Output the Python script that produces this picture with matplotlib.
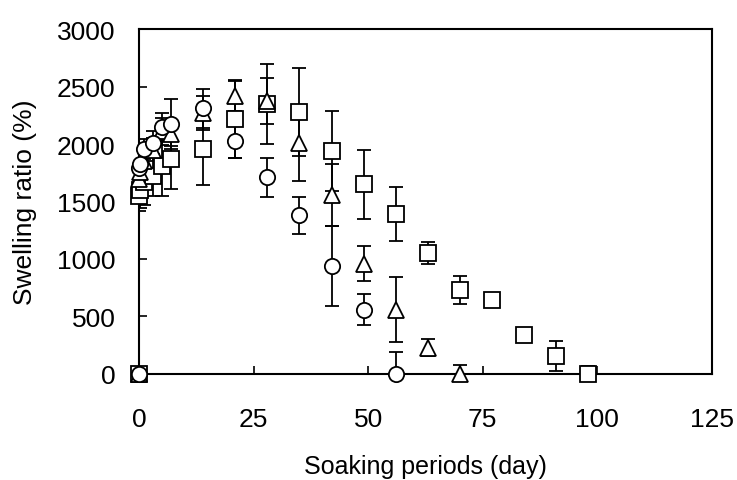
import numpy as np
import matplotlib
matplotlib.use("Agg")
import matplotlib.pyplot as plt

plt.rcParams['font.family'] = ['Liberation Sans', 'DejaVu Sans']

days = [0, 0.1, 0.25, 1, 3, 5, 7, 14, 21, 28, 35, 42, 49, 56, 63, 70, 77, 84, 91, 98]

circle_days = days[:14]
circle_vals = [0, 1790, 1830, 1960, 2010, 2150, 2175, 2310, 2030, 1710, 1380, 940, 560, 0]
circle_err = [0, 60, 60, 80, 100, 120, 220, 170, 150, 170, 160, 345, 135, 190]

tri_days = days[:16]
tri_vals = [0, 1700, 1760, 1850, 1950, 2110, 2090, 2270, 2420, 2370, 2010, 1560, 960, 560, 230, 0]
tri_err = [0, 60, 60, 80, 100, 120, 110, 150, 130, 200, 330, 270, 150, 280, 70, 80]

sq_days = days
sq_vals = [0, 1550, 1600, 1670, 1720, 1810, 1870, 1960, 2220, 2350, 2280, 1940, 1650, 1390, 1050, 730, 640, 340, 160, 0]
sq_err = [0, 130, 160, 200, 170, 260, 260, 320, 340, 350, 380, 350, 300, 235, 95, 125, 0, 0, 130, 70]

xticks = [0, 25, 50, 75, 100, 125]
yticks = [0, 500, 1000, 1500, 2000, 2500, 3000]

fig = plt.figure(figsize=(7.37, 4.81), dpi=100)
ax = fig.add_axes([0.1886, 0.2204, 0.7774, 0.7172])

series = [
    (sq_days, sq_vals, sq_err, 's'),
    (tri_days, tri_vals, tri_err, '^'),
    (circle_days, circle_vals, circle_err, 'o'),
]

for d, v, e, m in series:
    ax.errorbar(d, v, yerr=e, fmt='none', ecolor='black', elinewidth=1.3,
                capsize=5, capthick=1.3, zorder=2)

for d, v, e, m in series:
    ms = 11 if m != '^' else 11.5
    ax.plot(d, v, linestyle='none', marker=m, markersize=ms, markerfacecolor='white',
            markeredgecolor='black', markeredgewidth=1.3, zorder=3, clip_on=False)

ax.set_xlim(0, 125)
ax.set_ylim(0, 3000)
ax.set_xticks(xticks)
ax.set_yticks(yticks)
ax.tick_params(direction='in', length=6, width=1.2, labelsize=19,
               top=False, right=False)
ax.tick_params(axis='x', pad=24)
ax.tick_params(axis='y', pad=17)
for s in ax.spines.values():
    s.set_linewidth(1.5)

ax.set_xlabel('Soaking periods (day)', fontsize=18, labelpad=16)
ax.set_ylabel('Swelling ratio (%)', fontsize=19, labelpad=14)

fig.savefig('out.png', dpi=100)
